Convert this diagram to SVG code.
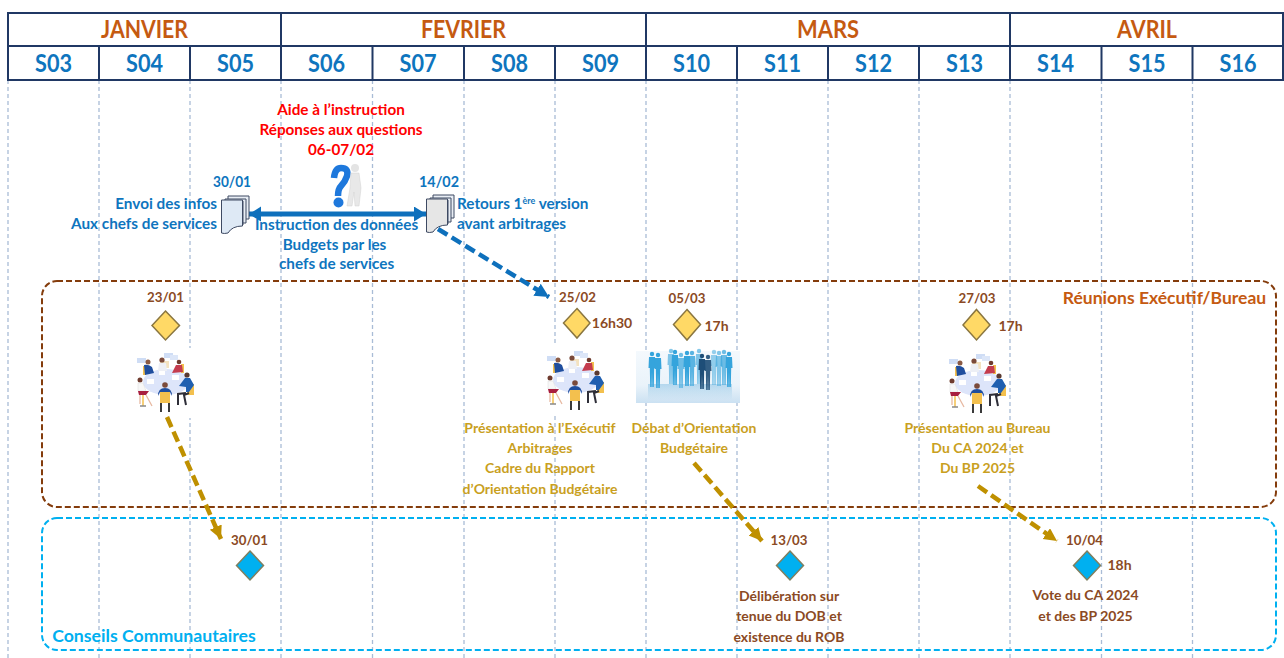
<svg xmlns="http://www.w3.org/2000/svg" xmlns:xlink="http://www.w3.org/1999/xlink" width="1284" height="658" viewBox="0 0 1284 658">
<style>
text{font-family:"Lato","Open Sans","Liberation Sans",sans-serif;font-weight:700;text-anchor:middle}
.grid{stroke:#A9BCD6;stroke-width:1.3;stroke-dasharray:4 3;fill:none}
.hdr{stroke:#203864;stroke-width:2;fill:none}
.m{font-size:24.5px;fill:#C55A11}
.w{font-size:25px;fill:#0E75BE}
.r{font-size:15.300px;fill:#FF0000}
.b{font-size:15.300px;fill:#0E75BE}
.bd{font-size:15px;fill:#0E75BE}
.d{font-size:14px;fill:#8B4A24}
.g{font-size:14px;fill:#C9A01E}
.ms{fill:#FFD966;stroke:#8A7640;stroke-width:1.5}
.mc{fill:#00B0F0;stroke:#7F7F5F;stroke-width:1.5}
.ga{stroke:#BF9000;stroke-width:4.500;stroke-dasharray:11 5;fill:none;marker-end:url(#hg)}
</style>
<defs>
<marker id="hg" markerUnits="userSpaceOnUse" markerWidth="15" markerHeight="14" refX="13" refY="6.500" orient="auto"><path d="M0 0L13 6.500L0 13Z" fill="#BF9000"/></marker>
<marker id="hb" markerUnits="userSpaceOnUse" markerWidth="16" markerHeight="16" refX="14" refY="7" orient="auto"><path d="M0 0L14 7L0 14Z" fill="#0E70BC"/></marker>
<marker id="hd" markerUnits="userSpaceOnUse" markerWidth="14" markerHeight="16" refX="12" refY="7.500" orient="auto-start-reverse"><path d="M0 0L12 7.500L0 15Z" fill="#0E70BC"/></marker>
<linearGradient id="ph" x1="0" y1="0" x2="0" y2="1"><stop offset="0" stop-color="#F4F9FD"/><stop offset="0.65" stop-color="#EAF3FA"/><stop offset="1" stop-color="#CBE1F2"/></linearGradient>
<linearGradient id="refl" x1="0" y1="0" x2="0" y2="1"><stop offset="0" stop-color="#9CCBE8" stop-opacity=".7"/><stop offset="1" stop-color="#9CCBE8" stop-opacity="0"/></linearGradient>
<g id="person"><circle cx="0" cy="-15" r="2.200"/><path d="M-3-12H3L3.500-1L2.200-1L1.800 18H.3L0 3L-.3 18H-1.800L-2.200-1L-3.500-1Z"/></g>
<g id="meeting">
<rect x="-29" y="-34" width="60" height="70" fill="#fff"/>
<rect x="-28" y="-24" width="9" height="5" fill="#CFDDF5"/><rect x="-1" y="-29" width="9" height="5" fill="#CFDDF5"/><rect x="5" y="-27" width="8" height="5" fill="#DCE6F8"/>
<ellipse cx="1" cy="0" rx="23" ry="13" fill="#DDE5FA"/>
<rect x="-18" y="-3" width="7" height="5" fill="#fff"/><rect x="7" y="-7" width="7" height="5" fill="#fff"/><rect x="-6" y="-11" width="6" height="4" fill="#fff"/>
<rect x="-22" y="-16" width="3" height="9" fill="#F3C04E"/><circle cx="-17" cy="-20" r="2.500" fill="#8A5A44"/><path d="M-21-17Q-17-18-13-15L-11-9L-20-7Z" fill="#1F4E9E"/>
<rect x="-5" y="-21" width="9" height="7" fill="#F3E2C0"/><circle cx="-3" cy="-22" r="2.600" fill="#7A4A3A"/><path d="M-6-19H1L2-11H-7Z" fill="#EDEFF5"/>
<rect x="16" y="-18" width="3" height="9" fill="#F3C04E"/><circle cx="14" cy="-20" r="2.300" fill="#6E3B2E"/><path d="M11-17H17L18-10L7-9Z" fill="#C43C4E"/>
<path d="M-24 2V12M-22 13V24" stroke="#F3C04E" stroke-width="1.500" fill="none"/><circle cx="-25" cy="-2" r="2.500" fill="#6E3B2E"/><path d="M-27 1H-22L-19 9H-27Z" fill="#F7F7F7" stroke="#D9D9D9" stroke-width=".5"/><path d="M-27 9H-16L-19 13H-26Z" fill="#A81E3F"/><path d="M-19 13L-13 24M-25 13V22" stroke="#E7B9A2" stroke-width="1.300" fill="none"/><path d="M-25 24H-19" stroke="#888" stroke-width="1.500"/>
<rect x="-5" y="10" width="10" height="11" fill="#F3C04E"/><path d="M-4 21V30M4 21V30" stroke="#3A3A3A" stroke-width="2"/><circle cx="0" cy="3" r="2.800" fill="#7A4A3A"/><path d="M-7 14Q-7 6 0 6Q7 6 7 14L5 10H-5Z" fill="#1F4E9E"/>
<rect x="22" y="2" width="7" height="11" fill="#F3C04E"/><circle cx="22" cy="-7" r="2.600" fill="#5A3A30"/><path d="M14 4L20-4H25L29 3L24 10H21V5Z" fill="#1F5FB0"/><path d="M21 11L13 12V23M24 11L19 13L21 23" stroke="#2E2E38" stroke-width="2" fill="none"/>
</g>
<g id="doc"><path d="M8 0H29V23H8Z" fill="#E8EDF4" stroke="#3E4A63"/><path d="M5 3H26V27H5Z" fill="#E8EDF4" stroke="#3E4A63"/><path d="M2 5H23V29H2Z" fill="#E8EDF4" stroke="#3E4A63"/></g>
</defs>
<rect width="1284" height="658" fill="#fff"/>

<g id="grid">
<path class="grid" d="M8 80V658M99 80V658M190 80V658M281 80V658M372.500 80V658M464 80V658M555 80V658M646 80V658M737 80V658M828 80V658M919 80V658M1010 80V658M1101.500 80V658M1192.500 80V658"/>
</g>

<g id="header">
<rect x="8" y="13" width="1275" height="67" fill="#fff"/>
<path class="hdr" d="M8 13H1283V80H8ZM8 46H1283M281 13V80M646 13V80M1010 13V80M99 46V80M190 46V80M372.500 46V80M464 46V80M555 46V80M737 46V80M828 46V80M919 46V80M1101.500 46V80M1192.500 46V80"/>
<g lengthAdjust="spacingAndGlyphs">
<text class="m" x="144.500" y="38" textLength="87" lengthAdjust="spacingAndGlyphs">JANVIER</text><text class="m" x="463.500" y="38" textLength="85" lengthAdjust="spacingAndGlyphs">FEVRIER</text><text class="m" x="828" y="38" textLength="62" lengthAdjust="spacingAndGlyphs">MARS</text><text class="m" x="1147" y="38" textLength="60" lengthAdjust="spacingAndGlyphs">AVRIL</text>
</g>
<g class="wk"><text class="w" x="53.500" y="72" textLength="37" lengthAdjust="spacingAndGlyphs">S03</text><text class="w" x="144.500" y="72" textLength="37" lengthAdjust="spacingAndGlyphs">S04</text><text class="w" x="235.500" y="72" textLength="37" lengthAdjust="spacingAndGlyphs">S05</text><text class="w" x="326.500" y="72" textLength="37" lengthAdjust="spacingAndGlyphs">S06</text><text class="w" x="418" y="72" textLength="37" lengthAdjust="spacingAndGlyphs">S07</text><text class="w" x="509.500" y="72" textLength="37" lengthAdjust="spacingAndGlyphs">S08</text><text class="w" x="600.500" y="72" textLength="37" lengthAdjust="spacingAndGlyphs">S09</text><text class="w" x="691.500" y="72" textLength="37" lengthAdjust="spacingAndGlyphs">S10</text><text class="w" x="782.500" y="72" textLength="37" lengthAdjust="spacingAndGlyphs">S11</text><text class="w" x="873.500" y="72" textLength="37" lengthAdjust="spacingAndGlyphs">S12</text><text class="w" x="964.500" y="72" textLength="37" lengthAdjust="spacingAndGlyphs">S13</text><text class="w" x="1055.500" y="72" textLength="37" lengthAdjust="spacingAndGlyphs">S14</text><text class="w" x="1147" y="72" textLength="37" lengthAdjust="spacingAndGlyphs">S15</text><text class="w" x="1238" y="72" textLength="37" lengthAdjust="spacingAndGlyphs">S16</text></g>
</g>

<g id="group-bureau"><rect x="42" y="281" width="1234" height="226" rx="15" fill="none" stroke="#843C0C" stroke-width="2" stroke-dasharray="6 3"/>
<text x="1164.500" y="304" font-size="17.500" fill="#C55A11">Réunions Exécutif/Bureau</text></g>
<g id="group-conseil"><rect x="42" y="518" width="1234" height="132" rx="15" fill="none" stroke="#00B0F0" stroke-width="2" stroke-dasharray="6 3"/>
<text x="154" y="642" font-size="17.700" fill="#00B0F0">Conseils Communautaires</text></g>

<g id="images">
<use xlink:href="#meeting" href="#meeting" x="165" y="382"/>
<use xlink:href="#meeting" href="#meeting" x="575" y="380"/>
<use xlink:href="#meeting" href="#meeting" x="977" y="383"/>
<g id="crowd"><rect x="636" y="351" width="104" height="52" fill="url(#ph)"/>
<rect x="648" y="384" width="84" height="16" fill="url(#refl)"/>
<g fill="#35A4DC"><use href="#person" x="652" y="369"/><use href="#person" x="658" y="370"/><use href="#person" x="671" y="366" opacity=".6"/><use href="#person" x="675" y="367"/><use href="#person" x="681" y="370" opacity=".7"/><use href="#person" x="687" y="368"/><use href="#person" x="692" y="368" opacity=".8"/><use href="#person" x="699" y="366" opacity=".6"/><use href="#person" x="714" y="367" opacity=".5"/><use href="#person" x="719" y="368" opacity=".6"/><use href="#person" x="724" y="367" opacity=".7"/><use href="#person" x="729" y="369"/></g>
<g fill="#1E4E78"><use href="#person" x="702" y="371"/><use href="#person" x="708" y="372" opacity=".9"/></g>
</g>
</g>

<g id="connectors">
<path d="M249 214H426" stroke="#0E70BC" stroke-width="5" fill="none" marker-start="url(#hd)" marker-end="url(#hd)"/>
<path d="M438 229L549 297" stroke="#0E70BC" stroke-width="4.500" stroke-dasharray="11 5" fill="none" marker-end="url(#hb)"/>
<path class="ga" d="M167 417L221 539"/>
<path class="ga" d="M694 463L762 541"/>
<path class="ga" d="M978 486L1057 541"/>
</g>

<g id="aide"><text class="r" x="341" y="115">Aide à l’instruction</text><text class="r" x="341" y="135">Réponses aux questions</text><text class="r" x="341" y="155">06-07/02</text>
<path d="M334 178Q335 168 341 168Q349 168 347 176Q345 182 341 186Q338 189 338 196" fill="none" stroke="#1E78DC" stroke-width="6.500"/><circle cx="338.500" cy="202.500" r="5" fill="#1E78DC"/>
<circle cx="355" cy="168" r="4" fill="#E4E4E4"/><path d="M351 173H359L361 188L359 206H355L354 192L352 206H347L350 188Z" fill="#E8E8E8" stroke="#D0D0D0" stroke-width=".5"/></g>

<g id="doc-3001"><text class="bd" x="232" y="187" textLength="38" lengthAdjust="spacingAndGlyphs">30/01</text><use href="#doc" x="220" y="196"/><path d="M221.500 200H242.500V226Q232 226 228 233Q224 234 221.500 233Z" fill="#DEE9F5" stroke="#3E4A63"/>
<text class="b" x="217" y="209" style="text-anchor:end">Envoi des infos</text><text class="b" x="217" y="229" style="text-anchor:end">Aux chefs de services</text></g>
<g id="instruction"><text class="b" x="336.500" y="230">Instruction des données</text><text class="b" x="334.500" y="250">Budgets par les</text><text class="b" x="336.500" y="269">chefs de services</text></g>
<g id="doc-1402"><text class="bd" x="439" y="187" textLength="40" lengthAdjust="spacingAndGlyphs">14/02</text><use href="#doc" x="425" y="195"/><path d="M426.500 199H447.500V225Q437 225 433 232Q429 233 426.500 232Z" fill="#E6E6E6" stroke="#3E4A63"/>
<text class="b" x="457" y="209" style="text-anchor:start">Retours 1<tspan font-size="9" dy="-5">ère</tspan><tspan dy="5"> version</tspan></text><text class="b" x="457" y="229" style="text-anchor:start">avant arbitrages</text></g>

<g id="m-2301"><text class="d" x="165.500" y="302" textLength="37" lengthAdjust="spacingAndGlyphs">23/01</text><path class="ms" d="M165.500 311L179.500 325.500L165.500 340L152 325.500Z"/></g>
<g id="m-2502"><text class="d" x="577.500" y="302" textLength="37" lengthAdjust="spacingAndGlyphs">25/02</text><path class="ms" d="M577 308.500L590 323L577 338L563.500 323Z"/><text class="d" x="612" y="328">16h30</text>
<text class="g" x="540" y="433">Présentation à l’Exécutif</text><text class="g" x="540" y="453">Arbitrages</text><text class="g" x="540" y="473">Cadre du Rapport</text><text class="g" x="540" y="494">d’Orientation Budgétaire</text></g>
<g id="m-0503"><text class="d" x="687" y="303" textLength="37" lengthAdjust="spacingAndGlyphs">05/03</text><path class="ms" d="M687 309.500L700.500 324.500L687 340L673.500 324.500Z"/><text class="d" x="716.500" y="331">17h</text>
<text class="g" x="694" y="433">Débat d’Orientation</text><text class="g" x="694" y="453">Budgétaire</text></g>
<g id="m-2703"><text class="d" x="977" y="303" textLength="37" lengthAdjust="spacingAndGlyphs">27/03</text><path class="ms" d="M976.500 309.500L990 325L976.500 340L963 325Z"/><text class="d" x="1010.500" y="331">17h</text>
<text class="g" x="977.500" y="433">Présentation au Bureau</text><text class="g" x="977.500" y="453">Du CA 2024 et</text><text class="g" x="977.500" y="473">Du BP 2025</text></g>

<g id="c-3001"><text class="d" x="249.500" y="545" textLength="37" lengthAdjust="spacingAndGlyphs">30/01</text><path class="mc" d="M250 551L263.500 565.500L250 580L236.500 565.500Z"/></g>
<g id="c-1303"><text class="d" x="789" y="545" textLength="37" lengthAdjust="spacingAndGlyphs">13/03</text><path class="mc" d="M790 551L803.500 565.500L790 580L776.500 565.500Z"/>
<text class="d" x="789" y="601">Délibération sur</text><text class="d" x="789" y="621">tenue du DOB et</text><text class="d" x="789" y="642">existence du ROB</text></g>
<g id="c-1004"><text class="d" x="1084.500" y="545" textLength="37" lengthAdjust="spacingAndGlyphs">10/04</text><path class="mc" d="M1087 551L1100.500 565.500L1087 580L1073.500 565.500Z"/><text class="d" x="1119.500" y="570">18h</text>
<text class="d" x="1085.500" y="600">Vote du CA 2024</text><text class="d" x="1085.500" y="621">et des BP 2025</text></g>
</svg>
